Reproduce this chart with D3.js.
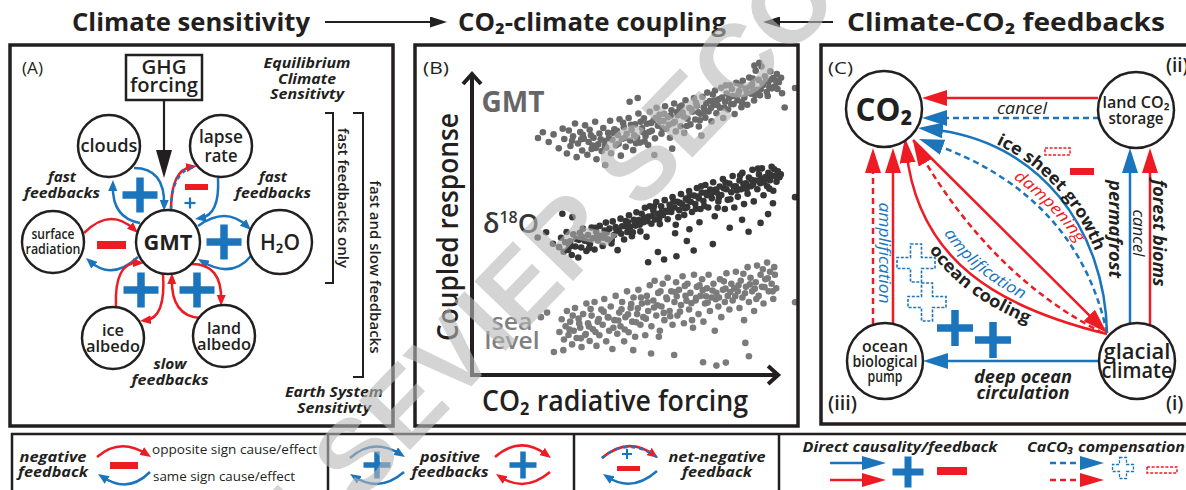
<!DOCTYPE html>
<html>
<head>
<meta charset="utf-8">
<script src="https://cdn.jsdelivr.net/npm/d3@7"></script>
<style>
  body { margin: 0; background: #fff; }
  svg { display: block; }
</style>
</head>
<body>
<svg id="fig"></svg>
<script>
// ---------- values ----------
const titles = ["Climate sensitivity", "CO₂-climate coupling", "Climate-CO₂ feedbacks"];
const panelLetters = ["(A)", "(B)", "(C)"];

// panel A: feedback nodes, links and signs
const nodesA = [
  {id: "GMT", lines: ["GMT"]},
  {id: "clouds", lines: ["clouds"]},
  {id: "lapse", lines: ["lapse", "rate"]},
  {id: "surface", lines: ["surface", "radiation"]},
  {id: "h2o", lines: ["H₂O"]},
  {id: "ice", lines: ["ice", "albedo"]},
  {id: "land", lines: ["land", "albedo"]}
];
const linksA = [
  {from: "GMT", to: "clouds", kind: "blue"},
  {from: "clouds", to: "GMT", kind: "blue"},
  {from: "GMT", to: "lapse", kind: "mixed"},
  {from: "lapse", to: "GMT", kind: "blue"},
  {from: "GMT", to: "h2o", kind: "blue"},
  {from: "h2o", to: "GMT", kind: "blue"},
  {from: "surface", to: "GMT", kind: "red"},
  {from: "GMT", to: "surface", kind: "blue"},
  {from: "ice", to: "GMT", kind: "red"},
  {from: "GMT", to: "ice", kind: "red"},
  {from: "land", to: "GMT", kind: "red"},
  {from: "GMT", to: "land", kind: "red"}
];
const signsA = ["+", "-", "+", "-", "+", "+", "+"];
const labelsA = [["fast", "feedbacks"], ["fast", "feedbacks"], ["slow", "feedbacks"],
  ["Equilibrium", "Climate", "Sensitivty"], ["Earth System", "Sensitivty"],
  ["fast feedbacks only"], ["fast and slow feedbacks"]];

// panel B: coupled response scatter (x = CO2 forcing, y = response, arbitrary 0-100 units)
const seriesB = ["GMT", "δ", "18", "O", "sea", "level"];
const gmtPts = [[20.3,78.2],[21.8,80.1],[23.6,76.9],[25.1,79.4],[26.7,74.8],[27.9,81.3],[28.4,77.9],[29.2,73.1],[29.8,80.7],[30.3,75.6],[31.1,78.8],[31.7,83.0],[32.2,71.9],[32.6,76.4],[33.3,80.2],[33.9,74.1],[34.4,78.0],[34.8,82.4],[35.5,72.7],[35.9,76.9],[36.2,80.9],[36.8,74.6],[37.4,78.3],[37.9,83.6],[38.3,71.2],[38.8,76.1],[39.2,79.7],[39.9,73.9],[40.4,81.5],[40.7,77.2],[41.3,75.0],[41.9,79.9],[42.5,83.9],[42.8,73.2],[43.2,77.6],[43.8,81.1],[44.3,75.8],[44.9,79.2],[45.4,84.4],[45.8,72.4],[46.1,77.9],[46.7,81.8],[47.3,75.3],[47.6,79.6],[48.2,84.8],[48.7,77.4],[49.1,80.9],[49.6,74.2],[50.2,82.7],[50.8,78.4],[51.2,86.3],[51.7,76.7],[52.3,81.4],[52.9,84.7],[53.4,78.9],[53.8,82.9],[54.2,75.9],[54.7,86.9],[55.3,80.6],[55.9,84.1],[56.3,78.1],[56.8,88.2],[57.2,82.3],[57.7,85.9],[58.3,79.6],[58.9,83.8],[59.4,88.7],[59.8,81.2],[60.3,85.1],[60.9,78.3],[61.4,87.4],[61.8,83.1],[62.2,89.6],[62.7,80.4],[63.3,85.7],[63.9,88.4],[64.2,82.1],[64.8,86.6],[65.3,79.9],[65.7,90.7],[66.3,84.6],[66.9,88.1],[67.2,82.7],[67.8,86.9],[68.3,91.4],[68.7,84.3],[69.2,88.9],[69.8,82.0],[70.3,86.2],[70.9,91.8],[71.3,88.3],[71.8,84.9],[72.4,93.2],[72.8,87.0],[73.2,90.4],[73.7,83.7],[74.3,89.1],[74.8,93.9],[75.2,86.4],[75.9,91.0],[76.3,88.2],[76.7,94.8],[77.3,84.8],[77.9,90.2],[78.4,92.9],[78.8,87.6],[79.3,95.6],[79.7,89.4],[80.2,92.1],[80.8,86.1],[81.3,96.4],[81.7,90.7],[82.2,93.7],[82.9,88.4],[83.3,97.1],[83.8,91.6],[84.2,94.5],[84.7,89.2],[85.3,98.2],[85.9,92.8],[86.2,95.9],[86.8,90.6],[87.3,100.4],[87.7,94.1],[88.2,97.4],[88.6,92.3],[89.1,101.8],[89.6,95.7],[90.1,98.6],[90.7,93.4],[91.2,96.9],[91.8,100.2],[92.3,94.6],[92.7,98.0],[93.2,95.3],[93.8,99.3],[94.4,96.6],[30.8,77.3],[34.1,79.3],[37.1,75.7],[39.6,77.8],[42.1,78.1],[44.6,80.6],[47.0,78.2],[49.9,79.1],[52.6,80.1],[55.1,83.2],[57.9,84.0],[60.6,82.6],[63.1,86.8],[65.1,85.3],[67.5,87.8],[69.6,86.7],[72.1,89.7],[74.6,90.6],[76.9,91.6],[79.1,91.4],[81.9,92.6],[84.6,93.1],[86.6,94.0],[89.4,96.2],[91.5,95.0],[93.5,97.2],[41.0,69.3],[56.1,72.6],[61.6,74.7],[70.6,79.0],[48.5,90.2],[51.0,91.4],[88.4,103.0],[86.9,102.1],[96.2,88.3],[95.4,93.0],[99.4,94.7],[33.6,77.8],[36.6,79.1],[38.1,74.9],[40.9,75.6],[43.5,79.9],[45.1,76.3],[46.5,83.2],[48.9,82.6],[50.5,76.5],[51.9,83.6],[53.1,77.1],[54.5,80.2],[56.6,84.9],[58.6,81.4],[59.1,86.2],[61.1,85.6],[62.4,83.6],[64.5,88.9],[66.1,82.2],[68.9,89.9],[70.1,84.1],[71.6,86.9],[73.5,88.1],[75.5,89.1],[77.6,88.3],[78.1,95.6],[80.5,89.4],[82.6,95.7],[83.1,90.0],[85.6,95.2],[87.1,92.4],[88.9,94.3],[90.4,96.9],[92.1,97.6],[94.0,94.4],[95.1,98.1],[91.0,92.1],[86.4,97.8],[80.0,94.4],[74.1,92.6]];
const d18oPts = [[20.2,45.4],[22.8,47.1],[24.9,43.3],[27.8,53.2],[30.9,52.1],[26.8,42.2],[27.4,45.3],[28.2,40.7],[28.7,43.8],[29.1,47.2],[29.6,41.3],[30.2,44.1],[30.7,39.6],[31.2,46.4],[31.8,42.4],[32.1,44.9],[32.7,38.8],[33.2,46.9],[33.6,42.1],[34.1,48.3],[34.7,44.3],[35.2,40.9],[35.7,46.2],[36.3,43.2],[36.8,48.7],[37.2,45.1],[37.7,41.4],[38.2,47.3],[38.8,44.4],[39.3,49.2],[39.7,45.9],[40.2,42.6],[40.8,47.7],[41.2,50.3],[41.7,44.8],[42.3,48.3],[42.9,43.4],[43.3,50.7],[43.7,46.2],[44.2,48.8],[44.8,41.2],[45.2,47.4],[45.7,51.6],[46.2,49.1],[46.8,44.7],[47.3,50.8],[47.8,47.2],[48.3,52.7],[48.7,48.9],[49.2,45.8],[49.8,51.2],[50.3,49.3],[50.6,53.7],[51.3,51.1],[51.8,47.4],[52.2,53.2],[52.8,50.4],[53.2,55.2],[53.7,45.6],[54.3,52.3],[54.7,55.7],[55.2,49.9],[55.8,54.3],[56.3,51.3],[56.7,57.1],[57.3,53.2],[57.8,49.8],[58.2,55.7],[58.7,52.8],[59.3,57.7],[59.7,54.2],[60.2,51.4],[60.8,56.2],[61.3,53.8],[61.7,58.7],[62.3,55.3],[62.7,49.6],[63.2,57.2],[63.8,54.4],[64.3,59.7],[64.7,56.3],[65.3,52.8],[65.8,58.2],[66.2,55.4],[66.8,60.7],[67.3,57.2],[67.7,53.8],[68.3,59.2],[68.7,56.4],[69.2,61.7],[69.8,58.3],[70.3,54.8],[70.7,60.2],[71.2,57.4],[71.8,62.7],[72.3,59.3],[72.7,55.3],[73.3,61.2],[73.8,58.3],[74.2,63.6],[74.7,52.4],[75.3,60.2],[75.8,57.3],[76.2,62.2],[76.7,59.4],[77.2,64.7],[77.8,54.8],[78.3,61.3],[78.7,57.8],[79.2,63.2],[79.8,60.3],[80.2,65.7],[80.7,55.3],[81.2,62.3],[81.8,58.8],[82.3,64.2],[82.8,61.3],[83.2,66.7],[83.7,56.4],[84.3,63.3],[84.8,59.8],[85.2,65.2],[85.8,62.3],[86.3,67.7],[86.7,57.3],[87.2,64.2],[87.8,61.3],[88.3,66.2],[88.7,63.3],[89.2,68.2],[89.7,59.3],[90.3,65.3],[90.8,62.3],[91.2,66.7],[91.7,64.3],[92.2,68.7],[92.7,60.8],[93.2,65.7],[93.7,63.8],[94.1,67.2],[94.6,65.3],[29.9,43.0],[32.9,44.6],[35.9,44.0],[38.5,46.1],[41.5,47.0],[44.5,47.8],[47.5,49.0],[50.1,50.5],[53.0,52.0],[55.5,52.5],[58.5,54.2],[61.0,55.3],[64.0,56.8],[66.5,57.6],[69.5,58.9],[72.0,60.1],[75.0,61.2],[77.5,61.6],[80.5,62.2],[83.5,63.0],[86.0,64.4],[88.9,64.9],[91.9,66.0],[74.1,43.2],[68.2,41.1],[62.9,39.2],[59.1,38.1],[54.2,37.2],[85.1,47.3],[88.8,50.2],[91.1,53.1],[92.6,56.7],[57.2,40.6],[66.1,44.2],[79.3,48.6],[83.1,51.2],[99.4,58.7],[30.4,42.6],[33.9,45.5],[36.0,41.8],[37.9,48.6],[40.5,45.3],[43.0,44.6],[45.9,46.6],[48.0,50.4],[49.5,47.1],[51.6,49.6],[54.0,50.8],[56.0,55.6],[57.6,51.6],[60.0,53.9],[62.0,57.3],[63.5,52.1],[65.6,55.0],[67.0,59.4],[68.9,54.9],[70.5,62.3],[71.5,55.8],[73.6,59.8],[76.0,58.6],[78.0,63.5],[79.5,58.0],[81.5,60.9],[82.5,65.8],[84.5,61.4],[86.5,62.9],[88.0,68.1],[89.9,63.6],[91.5,61.5],[93.0,67.9],[95.0,66.2],[62.5,46.8],[75.6,55.2],[70.0,50.4],[66.9,48.1]];
const seaPts = [[21.2,19.1],[23.1,20.6],[25.2,7.6],[28.1,8.2],[26.9,14.2],[27.6,18.4],[28.3,11.7],[28.8,16.1],[29.2,21.1],[29.7,13.2],[30.2,17.6],[30.8,10.1],[31.3,14.6],[31.7,22.1],[32.2,12.2],[32.8,18.6],[33.3,15.6],[33.7,9.2],[34.2,20.1],[34.8,13.2],[35.2,23.6],[35.7,17.1],[36.2,11.2],[36.8,19.6],[37.2,15.1],[37.7,24.1],[38.3,9.6],[38.7,17.6],[39.2,13.1],[39.8,21.6],[40.2,16.6],[40.7,25.1],[41.3,11.1],[41.8,19.1],[42.2,14.6],[42.7,22.6],[43.2,8.6],[43.8,18.1],[44.2,26.1],[44.7,13.6],[45.3,20.6],[45.7,16.1],[46.2,24.1],[46.8,11.1],[47.2,19.1],[47.7,27.6],[48.2,14.1],[48.8,22.1],[49.3,17.6],[49.7,25.6],[50.2,12.6],[50.8,20.1],[51.2,28.1],[51.8,16.6],[52.3,23.6],[52.7,19.1],[53.3,13.1],[53.8,26.1],[54.2,21.1],[54.7,29.6],[55.2,16.1],[55.8,24.6],[56.2,31.1],[56.7,19.6],[57.3,27.1],[57.8,14.6],[58.3,22.6],[58.7,30.1],[59.2,18.1],[59.8,25.6],[60.2,32.1],[60.8,21.1],[61.3,27.6],[61.7,16.6],[62.3,24.1],[62.8,30.6],[63.2,19.6],[63.7,28.1],[64.3,23.1],[64.8,32.6],[65.2,17.1],[65.7,26.1],[66.3,30.1],[66.8,21.6],[67.2,27.1],[67.7,18.1],[68.3,33.1],[68.8,24.6],[69.2,29.1],[69.7,20.1],[70.3,26.1],[70.8,31.6],[71.2,17.6],[71.7,23.6],[72.3,28.6],[72.8,33.1],[73.2,21.1],[73.7,25.6],[74.3,30.1],[74.7,14.6],[75.2,27.1],[75.8,22.6],[76.3,31.6],[76.7,19.1],[77.2,28.1],[77.8,24.1],[78.3,33.6],[78.7,26.1],[79.2,21.6],[79.8,30.1],[80.2,24.6],[80.7,28.6],[81.2,34.1],[81.8,27.6],[82.3,22.1],[82.7,31.1],[83.2,25.6],[83.7,18.1],[84.3,29.1],[84.8,35.6],[85.2,24.1],[85.7,32.1],[86.2,27.6],[86.8,21.1],[87.3,30.6],[87.7,36.1],[88.2,26.1],[88.8,33.1],[89.2,29.1],[89.7,23.6],[90.2,31.6],[90.8,37.1],[91.3,27.6],[91.7,34.1],[92.2,30.1],[92.7,25.1],[93.2,33.1],[93.6,28.6],[30.0,15.0],[33.0,17.0],[36.0,16.0],[39.0,18.5],[42.0,19.0],[45.0,18.0],[48.0,20.0],[51.0,22.0],[54.0,24.0],[57.0,23.0],[60.0,25.0],[63.0,26.0],[66.0,24.5],[69.0,25.5],[72.0,26.0],[75.0,25.0],[78.0,28.5],[81.0,26.0],[84.0,27.0],[87.0,28.5],[90.0,29.0],[35.0,13.5],[47.0,15.0],[59.0,20.5],[71.0,28.0],[71.1,4.2],[75.2,3.1],[78.1,4.1],[85.2,6.2],[84.1,10.6],[62.2,6.6],[55.1,7.1],[49.6,8.2],[99.4,24],[31.0,19.6],[33.5,12.1],[36.5,21.8],[38.0,14.2],[40.5,20.9],[43.5,15.6],[46.0,21.7],[49.0,23.4],[50.5,17.4],[52.0,25.6],[53.5,18.6],[56.0,22.3],[58.0,27.6],[61.0,19.4],[62.5,27.4],[64.0,20.9],[65.5,29.4],[67.5,23.7],[70.0,29.6],[72.5,23.9],[74.0,27.9],[76.0,25.6],[77.5,30.9],[79.5,27.4],[82.0,29.6],[83.5,33.4],[85.5,29.9],[87.5,25.1],[89.5,34.9],[91.0,31.9],[93.0,35.6],[92.5,27.6],[68.0,15.6],[57.5,12.6]];
const axisLabelsB = ["Coupled response", "CO₂ radiative forcing"];

// panel C: climate-CO2 loop
const nodesC = [
  {id: "co2", lines: ["CO₂"]},
  {id: "landco2", lines: ["land CO₂", "storage"]},
  {id: "pump", lines: ["ocean", "biological", "pump"]},
  {id: "glacial", lines: ["glacial", "climate"]}
];
const linksC = [
  {from: "landco2", to: "co2", kind: "red"},
  {from: "landco2", to: "co2", kind: "blueDash"},
  {from: "glacial", to: "landco2", kind: "blue"},
  {from: "glacial", to: "landco2", kind: "red"},
  {from: "pump", to: "co2", kind: "redDash"},
  {from: "pump", to: "co2", kind: "red"},
  {from: "glacial", to: "pump", kind: "blue"},
  {from: "glacial", to: "co2", kind: "blue"},
  {from: "glacial", to: "co2", kind: "blueDash"},
  {from: "co2", to: "glacial", kind: "red"},
  {from: "glacial", to: "co2", kind: "redDash"},
  {from: "glacial", to: "co2", kind: "red"}
];
const cornerTags = ["(ii)", "(iii)", "(i)"];
const labelsC = ["cancel", "permafrost", "cancel", "forest bioms", "amplification", "deep ocean", "circulation"];
const curveLabelsC = ["ice sheet growth", "dampening", "amplification", "ocean cooling"];

// legend
const legendText = {
  neg: ["negative", "feedback"], negNotes: ["opposite sign cause/effect", "same sign cause/effect"],
  pos: ["positive", "feedbacks"], net: ["net-negative", "feedback"],
  direct: "Direct causality/feedback", caco3: "CaCO₃ compensation"
};
const watermark = "ELSEVIER SECOND PROOF";

// ---------- drawing ----------
const W = 1186, H = 490;
const RED = "#ed1c24", BLUE = "#1b75bc", INK = "#231f20";
const FONT = "'Open Sans','Noto Sans','DejaVu Sans',sans-serif";

const svg = d3.select("#fig").attr("width", W).attr("height", H)
  .attr("font-family", FONT);
const defs = svg.append("defs");

const MK = {
  rS: {c: RED, l: 11, h: 4.5}, bS: {c: BLUE, l: 11, h: 4.5},
  rL: {c: RED, l: 25, h: 8}, bL: {c: BLUE, l: 25, h: 8},
  rM: {c: RED, l: 24, h: 7}, bM: {c: BLUE, l: 24, h: 7},
  kT: {c: INK, l: 17, h: 5.5}, kA: {c: INK, l: 28, h: 8}
};
Object.entries(MK).forEach(([id, m]) => {
  defs.append("marker").attr("id", id)
    .attr("markerUnits", "userSpaceOnUse")
    .attr("viewBox", `0 0 ${m.l} ${2 * m.h}`)
    .attr("markerWidth", m.l).attr("markerHeight", 2 * m.h)
    .attr("refX", m.l * 0.5).attr("refY", m.h)
    .attr("orient", "auto")
    .append("path").attr("d", `M0,0L${m.l},${m.h}L0,${2 * m.h}Z`).attr("fill", m.c);
});

function T(g, s, x, y, size, o = {}) {
  const t = g.append("text").attr("x", x).attr("y", y).text(s)
    .attr("font-size", size)
    .attr("font-weight", o.w || 400)
    .attr("font-style", o.i ? "italic" : "normal")
    .attr("fill", o.fill || INK)
    .attr("text-anchor", o.anchor || "middle");
  if (o.len) t.attr("textLength", o.len).attr("lengthAdjust", "spacingAndGlyphs");
  if (o.rot) t.attr("transform", `rotate(${o.rot},${x},${y})`);
  return t;
}

function curve(g, pts, color, mk, dash, w) {
  const p1 = pts[pts.length - 1], pc = pts[pts.length - 2];
  let end = p1;
  if (mk) {
    const dx = p1[0] - pc[0], dy = p1[1] - pc[1], L = Math.hypot(dx, dy), k = MK[mk].l * 0.5;
    end = [p1[0] - dx / L * k, p1[1] - dy / L * k];
  }
  const p = d3.path();
  p.moveTo(pts[0][0], pts[0][1]);
  if (pts.length === 2) p.lineTo(end[0], end[1]);
  else if (pts.length === 3) p.quadraticCurveTo(pts[1][0], pts[1][1], end[0], end[1]);
  else p.bezierCurveTo(pts[1][0], pts[1][1], pts[2][0], pts[2][1], end[0], end[1]);
  const el = g.append("path").attr("d", p.toString()).attr("fill", "none")
    .attr("stroke", color).attr("stroke-width", w || 2.5);
  if (dash) el.attr("stroke-dasharray", dash);
  if (mk) el.attr("marker-end", `url(#${mk})`);
  return el;
}

function plus(g, cx, cy, s, w, color) {
  g.append("rect").attr("x", cx - s / 2).attr("y", cy - w / 2).attr("width", s).attr("height", w).attr("fill", color);
  g.append("rect").attr("x", cx - w / 2).attr("y", cy - s / 2).attr("width", w).attr("height", s).attr("fill", color);
}
function plusOutline(g, cx, cy, s, w, color, sw) {
  const a = s / 2, b = w / 2;
  const pts = [[-b,-a],[b,-a],[b,-b],[a,-b],[a,b],[b,b],[b,a],[-b,a],[-b,b],[-a,b],[-a,-b],[-b,-b]];
  g.append("path").attr("d", "M" + pts.map(p => (cx + p[0]) + "," + (cy + p[1])).join("L") + "Z")
    .attr("fill", "none").attr("stroke", color).attr("stroke-width", sw || 1.6).attr("stroke-dasharray", "3,1.6");
}
function minus(g, x, y, w, h, color, outline) {
  const r = g.append("rect").attr("x", x).attr("y", y).attr("width", w).attr("height", h);
  if (outline) r.attr("fill", "none").attr("stroke", color).attr("stroke-width", 1.5).attr("stroke-dasharray", "3,1.6");
  else r.attr("fill", color);
}
function node(g, cx, cy, r, lines, size, weight, gap) {
  g.append("circle").attr("cx", cx).attr("cy", cy).attr("r", r)
    .attr("fill", "#fff").attr("stroke", INK).attr("stroke-width", 2.5);
  const n = lines.length;
  lines.forEach((l, i) => {
    const yy = cy + (i - (n - 1) / 2) * gap + size * 0.36;
    T(g, l.t, cx, yy, size, {w: weight, len: l.len});
  });
}

// ---------- headings ----------
const head = svg.append("g");
const titleX = [[191, 238], [592, 268], [1006, 318]];
titles.forEach((t, i) => T(head, t, titleX[i][0], 31, 25, {w: 700, len: titleX[i][1]}));
curve(head, [[325, 22], [447, 22]], INK, "kT", null, 2);
curve(head, [[833, 22], [763, 22]], INK, "kT", null, 2);

// ---------- panel A ----------
const gA = svg.append("g");
const posA = {
  GMT: [168, 242, 32, 22, 700, 0, [[49]]],
  clouds: [109, 146, 31, 18, 600, 0, [[57]]],
  lapse: [221, 146, 31, 18, 600, 19, [[44], [33]]],
  surface: [53, 242, 31, 13.5, 600, 15, [[43], [55]]],
  h2o: [280, 242, 32, 22, 600, 0, [[40]]],
  ice: [113, 338, 31, 17, 600, 16, [[22], [54]]],
  land: [224, 336, 31, 17, 600, 16, [[34], [54]]]
};
const geoA = {
  "GMT>clouds": [[140, 223], [112, 218], [113, 180]],
  "clouds>GMT": [[134, 168], [165, 168], [164, 211]],
  "GMT>lapse": [[171, 210], [171, 170], [197, 166]],
  "lapse>GMT": [[218, 178], [220, 215], [195, 219]],
  "GMT>h2o": [[198, 226], [226, 206], [251, 230]],
  "h2o>GMT": [[251, 256], [232, 279], [198, 259]],
  "surface>GMT": [[84, 233], [110, 207], [138, 233]],
  "GMT>surface": [[138, 257], [112, 281], [86, 258]],
  "ice>GMT": [[116, 307], [114, 262], [144, 263]],
  "GMT>ice": [[163, 274], [166, 318], [140, 321]],
  "land>GMT": [[200, 318], [171, 316], [172, 273]],
  "GMT>land": [[192, 264], [222, 264], [221, 306]]
};
linksA.forEach(l => {
  const g = geoA[l.from + ">" + l.to];
  if (l.kind === "mixed") {
    curve(gA, g, RED, "rS");
    curve(gA, g, BLUE, null, "4,4");
  } else curve(gA, g, l.kind === "red" ? RED : BLUE, l.kind === "red" ? "rS" : "bS");
});
// GHG forcing box and arrow
gA.append("rect").attr("x", 126).attr("y", 55).attr("width", 76).attr("height", 45)
  .attr("fill", "#fff").attr("stroke", INK).attr("stroke-width", 2.5);
T(gA, "GHG", 164, 74, 20, {w: 600, len: 45});
T(gA, "forcing", 164, 92, 20, {w: 600, len: 68});
curve(gA, [[164, 100], [164, 178]], INK, "kA", null, 2.2);

nodesA.forEach(n => {
  const p = posA[n.id];
  node(gA, p[0], p[1], p[2], n.lines.map((t, i) => ({t, len: p[6][i][0]})), p[3], p[4], p[5]);
});

const signPosA = [[140, 195, 35, 7.5, BLUE], [185, 184, 23, 6, RED], [190, 203, 11, 2.2, BLUE],
  [97, 241, 29, 8, RED], [224, 242, 35, 7.5, BLUE], [141, 290, 35, 7.5, BLUE], [197, 290, 35, 7.5, BLUE]];
signsA.forEach((s, i) => {
  const p = signPosA[i];
  if (s === "+") plus(gA, p[0], p[1], p[2], p[3], p[4]);
  else minus(gA, p[0], p[1], p[2], p[3], p[4]);
});

const labPosA = [[62, 182, 16], [273, 182, 16], [170, 369, 16], [307, 68, 15.5], [334, 397, 15.5]];
const labLenA = [[28, 76], [28, 76], [33, 77], [87, 58, 74], [98, 74]];
labPosA.forEach((p, i) => {
  labelsA[i].forEach((s, j) => T(gA, s, p[0], p[1] + j * p[2], 15, {w: 700, i: true, len: labLenA[i][j]}));
});
gA.append("path").attr("d", "M325,113H333V283H325").attr("fill", "none").attr("stroke", INK).attr("stroke-width", 2);
gA.append("path").attr("d", "M353,113H363V377H353").attr("fill", "none").attr("stroke", INK).attr("stroke-width", 2);
T(gA, labelsA[5][0], 338, 198, 15, {w: 600, len: 140, rot: 90});
T(gA, labelsA[6][0], 370, 267, 15, {w: 600, len: 173, rot: 90});

// ---------- panel B ----------
const gB = svg.append("g");
const x = d3.scaleLinear().domain([0, 100]).range([472, 797]);
const y = d3.scaleLinear().domain([0, 100]).range([375, 72]);
const seriesData = [gmtPts, d18oPts, seaPts];
const seriesFill = ["#696969", "#363636", "#7b7b7b"];
seriesData.forEach((pts, i) => {
  gB.append("g").selectAll("circle").data(pts).join("circle")
    .attr("cx", d => x(d[0])).attr("cy", d => y(d[1])).attr("r", 3.3)
    .attr("fill", seriesFill[i]);
});
// axes with open arrow heads
const ax = gB.append("g").attr("fill", "none").attr("stroke", INK).attr("stroke-width", 4)
  .attr("stroke-linejoin", "miter");
ax.append("path").attr("d", `M${x(0)},${y(0) + 2}V${y(100) + 2}`);
ax.append("path").attr("d", `M${x(0) - 2},${y(0)}H${x(94.5) - 2}`);
ax.append("path").attr("d", `M${x(0) - 9},${y(100) + 12}L${x(0)},${y(100) + 2}L${x(0) + 9},${y(100) + 12}`);
ax.append("path").attr("d", `M${x(94.5) - 11},${y(0) - 9}L${x(94.5) - 1},${y(0)}L${x(94.5) - 11},${y(0) + 9}`);
T(gB, axisLabelsB[0], 0, 0, 28, {w: 600, len: 228}).attr("transform", "translate(458,227) rotate(-90)");
T(gB, axisLabelsB[1], 615, 411, 28, {w: 600, len: 266});
T(gB, seriesB[0], 513, 112, 29, {w: 700, fill: "#666", len: 63});
const d18 = gB.append("text").attr("x", 483).attr("y", 233).attr("font-size", 27).attr("font-weight", 600)
  .attr("fill", "#363636");
d18.append("tspan").text(seriesB[1]);
d18.append("tspan").text(seriesB[2]).attr("font-size", 16).attr("dy", -10);
d18.append("tspan").text(seriesB[3]).attr("dy", 10);
T(gB, seriesB[4], 512, 330, 24, {w: 600, fill: "#808080", len: 41});
T(gB, seriesB[5], 512, 349, 24, {w: 600, fill: "#808080", len: 55});

// ---------- panel C ----------
const gC = svg.append("g");
const posC = {
  co2: [884, 109, 38, 33, 700, 0, [57]],
  landco2: [1136, 110, 38, 15.5, 600, 16, [67, 55]],
  pump: [885, 361, 38, 15.5, 600, 15, [46, 65, 35]],
  glacial: [1137, 361, 38, 22, 600, 19, [67, 71]]
};
const geoC = [
  [[1098, 98], [922, 98]],
  [[1099, 118], [922, 118]],
  [[1130, 324], [1130, 148]],
  [[1150, 325], [1150, 148]],
  [[873, 324], [873, 148]],
  [[893, 323], [893, 148]],
  [[1099, 361], [923, 361]],
  [[1107, 333], [1105, 230], [1040, 140], [918, 128]],
  [[1107, 333], [1077, 194], [919, 139]],
  [[913, 140], [1107, 333]],
  [[1103, 333], [992, 277], [913, 141]],
  [[1107, 334], [1000, 308], [918, 262], [905, 138]]
];
linksC.forEach((l, i) => {
  const red = l.kind.startsWith("red");
  const dash = l.kind.endsWith("Dash") ? "6,4" : null;
  curve(gC, geoC[i], red ? RED : BLUE, red ? "rL" : "bL", dash, 2.5);
});
nodesC.forEach(n => {
  const p = posC[n.id];
  node(gC, p[0], p[1], p[2], n.lines.map((t, i) => ({t, len: p[6][i]})), p[3], p[4], p[5]);
});
T(gC, panelLetters[2], 828, 74, 16, {anchor: "start", len: 25});
T(gC, cornerTags[0], 1166, 72, 19, {w: 600, anchor: "start"});
T(gC, cornerTags[1], 828, 410, 19, {w: 600, anchor: "start", len: 29});
T(gC, cornerTags[2], 1166, 410, 19, {w: 600, anchor: "start"});

T(gC, labelsC[0], 1022, 114, 16, {i: true, len: 50});
T(gC, labelsC[1], 1109, 229, 17, {w: 700, i: true, len: 98, rot: 90});
T(gC, labelsC[2], 1133, 233, 16, {i: true, len: 47, rot: 90});
T(gC, labelsC[3], 1153, 233, 17, {w: 700, i: true, len: 107, rot: 90});
T(gC, labelsC[4], 879, 253, 16, {i: true, fill: BLUE, len: 101, rot: 90});
T(gC, labelsC[5], 1023, 383, 17, {w: 700, i: true, len: 98});
T(gC, labelsC[6], 1023, 399, 17, {w: 700, i: true, len: 93});

// labels that follow the diagonal arrows
const tp = [
  {d: "M921,124 C1043,136 1109,228 1111,333", off: 78, size: 17, w: 700, fill: INK, len: 150},
  {d: "M922,133 Q1083,188 1113,331", off: 102, size: 16, w: 400, fill: RED, len: 92, it: true},
  {d: "M910,134 C923,258 1005,304 1111,330", off: "52%", size: 16, w: 400, fill: BLUE, len: 104, it: true, mid: true},
  {d: "M894,149 C907,273 989,319 1096,345", off: "56%", size: 17, w: 700, fill: INK, len: 125, mid: true}
];
tp.forEach((t, i) => {
  defs.append("path").attr("id", "tp" + i).attr("d", t.d);
  gC.append("text").attr("font-size", t.size).attr("font-weight", t.w)
    .attr("font-style", t.it ? "italic" : "normal").attr("fill", t.fill)
    .attr("text-anchor", t.mid ? "middle" : "start")
    .append("textPath").attr("href", "#tp" + i).attr("startOffset", t.off)
    .attr("textLength", t.len).attr("lengthAdjust", "spacingAndGlyphs")
    .text(curveLabelsC[i]);
});
plusOutline(gC, 916, 263, 38, 11, BLUE);
plusOutline(gC, 927, 302, 38, 11, BLUE);
plus(gC, 955, 328, 36, 7.5, BLUE);
plus(gC, 993, 340, 36, 7.5, BLUE);
minus(gC, 1045, 148, 25, 7, RED, true);
minus(gC, 1070, 168, 24, 7, RED);

// ---------- panel frames ----------
const frames = [[10, 45, 383, 381], [415, 45, 383, 381], [821, 45, 380, 379]];
frames.forEach(f => svg.append("rect").attr("x", f[0]).attr("y", f[1]).attr("width", f[2]).attr("height", f[3])
  .attr("fill", "none").attr("stroke", INK).attr("stroke-width", 3.5));
T(gA, panelLetters[0], 22, 74, 16, {anchor: "start", len: 21});
T(gB, panelLetters[1], 423, 74, 16, {anchor: "start", len: 26});

// ---------- legend ----------
const gL = svg.append("g");
gL.append("rect").attr("x", 12).attr("y", 434).attr("width", 1190).attr("height", 70)
  .attr("fill", "none").attr("stroke", INK).attr("stroke-width", 2.5);
[328, 574, 779].forEach(xx => gL.append("line").attr("x1", xx).attr("x2", xx).attr("y1", 434).attr("y2", 492)
  .attr("stroke", INK).attr("stroke-width", 2.5));
const lgBold = {w: 700, i: true};
T(gL, legendText.neg[0], 53, 462, 15, {...lgBold, len: 67});
T(gL, legendText.neg[1], 53, 477, 15, {...lgBold, len: 70});
curve(gL, [[97, 457], [120, 437], [151, 457]], RED, "rS");
minus(gL, 110, 462, 28, 7, RED);
T(gL, legendText.negNotes[0], 152, 454, 13.5, {anchor: "start", len: 165});
curve(gL, [[150, 472], [128, 494], [98, 474]], BLUE, "bS");
T(gL, legendText.negNotes[1], 153, 481, 13.5, {anchor: "start", len: 142});

curve(gL, [[350, 458], [373, 437], [405, 457]], BLUE, "bS");
curve(gL, [[404, 472], [380, 493], [350, 474]], BLUE, "bS");
plus(gL, 377, 465, 27, 5.5, BLUE);
T(gL, legendText.pos[0], 450, 462, 15, {...lgBold, len: 60});
T(gL, legendText.pos[1], 450, 477, 15, {...lgBold, len: 77});
curve(gL, [[495, 457], [520, 435], [551, 458]], RED, "rS");
curve(gL, [[550, 472], [525, 493], [496, 474]], RED, "rS");
plus(gL, 523, 465, 27, 5.5, BLUE);

const netTop = [[602, 458], [628, 436], [658, 458]];
curve(gL, netTop, RED, "rS");
curve(gL, netTop, BLUE, null, "4,4");
plus(gL, 627, 454, 10, 2, BLUE);
minus(gL, 617, 466, 23, 5, RED);
curve(gL, [[657, 471], [632, 493], [603, 474]], BLUE, "bS");
T(gL, legendText.net[0], 717, 462, 15, {...lgBold, len: 97});
T(gL, legendText.net[1], 717, 477, 15, {...lgBold, len: 70});

T(gL, legendText.direct, 900, 452, 15, {...lgBold, len: 195});
curve(gL, [[830, 463], [886, 463]], BLUE, "bM");
curve(gL, [[830, 480], [886, 480]], RED, "rM");
plus(gL, 908, 472, 31, 7, BLUE);
minus(gL, 937, 467, 30, 8, RED);

T(gL, legendText.caco3, 1027, 452, 15, {...lgBold, anchor: "start", len: 158});
curve(gL, [[1050, 463], [1104, 463]], BLUE, "bM", "6,4");
curve(gL, [[1050, 480], [1104, 480]], RED, "rM", "6,4");
plusOutline(gL, 1123, 468, 21, 7, BLUE, 1.3);
minus(gL, 1147, 467, 30, 6, RED, true);

// ---------- watermark ----------
svg.append("text").text(watermark)
  .attr("font-family", "'Liberation Sans',Arial,sans-serif").attr("font-weight", 700)
  .attr("font-size", 103).attr("fill", "#b8b8b8").attr("opacity", 0.6)
  .attr("transform", "translate(266,599) rotate(-46)");
</script>
</body>
</html>
